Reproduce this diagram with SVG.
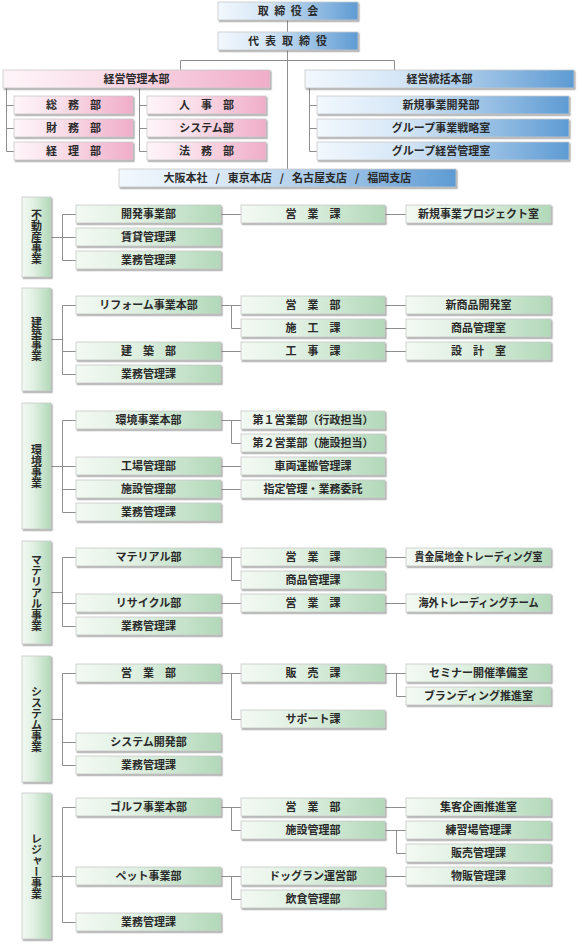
<svg xmlns="http://www.w3.org/2000/svg" width="580" height="945" viewBox="0 0 580 945">
<defs>
<linearGradient id="gg" x1="0" y1="0" x2="1" y2="0">
<stop offset="0" stop-color="#f3f9f3"/><stop offset="0.4" stop-color="#e0f0e2"/><stop offset="1" stop-color="#b2d8b9"/>
</linearGradient>
<linearGradient id="gb" x1="0" y1="0" x2="1" y2="0">
<stop offset="0" stop-color="#f2f8fd"/><stop offset="0.35" stop-color="#d5e6f6"/><stop offset="1" stop-color="#5e9bd3"/>
</linearGradient>
<linearGradient id="gp" x1="0" y1="0" x2="1" y2="0">
<stop offset="0" stop-color="#fef5f9"/><stop offset="0.4" stop-color="#f9dde8"/><stop offset="1" stop-color="#f0adc8"/>
</linearGradient>
<filter id="sh" x="-10%" y="-20%" width="120%" height="160%">
<feDropShadow dx="1.2" dy="1.5" stdDeviation="0.7" flood-color="#555" flood-opacity="0.55"/>
</filter>
<style>
.box{stroke:#c8c8c8;stroke-width:0.8;filter:url(#sh)}
.gr{fill:url(#gg)}
.bl{fill:url(#gb)}
.pk{fill:url(#gp)}
.t{font-family:"Noto Sans CJK JP","Noto Sans",sans-serif;font-size:11px;font-weight:bold;fill:#2a2a2a;text-anchor:middle}
.v{writing-mode:vertical-rl;dominant-baseline:central}
.c{stroke:#8e8e8e;stroke-width:1;fill:none}
</style>
</defs>
<rect width="580" height="945" fill="#ffffff"/>
<g id="connectors" class="c">
<path d="M287.5 20 V169 M180.5 70 V60.5 H394.5 V70"/>
<path d="M6.5 88 V151.5 H14 M6.5 105.5 H14 M6.5 128.5 H14"/>
<path d="M139.5 88 V151.5 H147 M139.5 105.5 H147 M139.5 128.5 H147"/>
<path d="M309.5 88 V151.5 H317 M309.5 105.5 H317 M309.5 128.5 H317"/>
<path d="M51 237.5 H62.5 M62.5 214.5 V260.5 M62.5 214.5 H76 M62.5 237.5 H76 M62.5 260.5 H76 M221 214.5 H241 M385 214.5 H406"/>
<path d="M51 339.5 H62.5 M62.5 305.5 V374.5 M62.5 305.5 H76 M62.5 351.5 H76 M62.5 374.5 H76 M221 305.5 H241 M231.5 305.5 V328.5 H241 M221 351.5 H241 M385 305.5 H406 M385 328.5 H406 M385 351.5 H406"/>
<path d="M51 466.5 H62.5 M62.5 420.5 V512.5 M62.5 420.5 H76 M62.5 466.5 H76 M62.5 489.5 H76 M62.5 512.5 H76 M221 420.5 H241 M231.5 420.5 V443.5 H241 M221 466.5 H241 M221 489.5 H241"/>
<path d="M51 592.5 H62.5 M62.5 557.5 V626.5 M62.5 557.5 H76 M62.5 603.5 H76 M62.5 626.5 H76 M221 557.5 H241 M231.5 557.5 V580.5 H241 M221 603.5 H241 M385 557.5 H406 M385 603.5 H406"/>
<path d="M51 719.5 H62.5 M62.5 673.5 V765.5 M62.5 673.5 H76 M62.5 742.5 H76 M62.5 765.5 H76 M221 673.5 H241 M231.5 673.5 V719.5 H241 M385 673.5 H406 M396.5 673.5 V696.5 H406"/>
<path d="M51 876.5 H62.5 M62.5 807.5 V922.5 M62.5 807.5 H76 M62.5 876.5 H76 M62.5 922.5 H76 M221 807.5 H241 M231.5 807.5 V830.5 H241 M221 876.5 H241 M231.5 876.5 V899.5 H241 M385 807.5 H406 M385 830.5 H406 M396.5 830.5 V853.5 H406 M385 876.5 H406"/>
</g>

<g id="board"><rect class="box bl" x="218" y="2" width="140" height="18"/><text class="t" x="290.75" y="15" letter-spacing="5.5">取締役会</text></g>
<g id="ceo"><rect class="box bl" x="218" y="32" width="140" height="18"/><text class="t" x="290.5" y="45" letter-spacing="6">代表取締役</text></g>
<g id="keiei-kanri"><rect class="box pk" x="3" y="70" width="267" height="18"/><text class="t" x="136.5" y="83">経営管理本部</text></g>
<g id="soumu"><rect class="box pk" x="14" y="96" width="119" height="18"/><text class="t" x="73.5" y="109">総　務　部</text></g>
<g id="zaimu"><rect class="box pk" x="14" y="119" width="119" height="18"/><text class="t" x="73.5" y="132">財　務　部</text></g>
<g id="keiri"><rect class="box pk" x="14" y="142" width="119" height="18"/><text class="t" x="73.5" y="155">経　理　部</text></g>
<g id="jinji"><rect class="box pk" x="147" y="96" width="119" height="18"/><text class="t" x="206.5" y="109">人　事　部</text></g>
<g id="system-bu"><rect class="box pk" x="147" y="119" width="119" height="18"/><text class="t" x="206.5" y="132">システム部</text></g>
<g id="houmu"><rect class="box pk" x="147" y="142" width="119" height="18"/><text class="t" x="206.5" y="155">法　務　部</text></g>
<g id="keiei-toukatsu"><rect class="box bl" x="305" y="70" width="269" height="18"/><text class="t" x="439.5" y="83">経営統括本部</text></g>
<g id="shinki-jigyou"><rect class="box bl" x="317" y="96" width="252" height="18"/><text class="t" x="441" y="109">新規事業開発部</text></g>
<g id="group-senryaku"><rect class="box bl" x="317" y="119" width="252" height="18"/><text class="t" x="441" y="132">グループ事業戦略室</text></g>
<g id="group-kanri"><rect class="box bl" x="317" y="142" width="252" height="18"/><text class="t" x="441" y="155">グループ経営管理室</text></g>
<g id="branches"><rect class="box bl" x="119" y="169" width="337" height="18"/><text class="t" x="287.5" y="182" word-spacing="5.5">大阪本社 / 東京本店 / 名古屋支店 / 福岡支店</text></g>

<g id="s1-label"><rect class="box gr" x="22" y="197" width="29" height="80"/><text class="t v" x="36.5" y="237">不動産事業</text></g>
<g id="s1-kaihatsu"><rect class="box gr" x="76" y="205" width="145" height="18"/><text class="t" x="148.5" y="218">開発事業部</text></g>
<g id="s1-chintai"><rect class="box gr" x="76" y="228" width="145" height="18"/><text class="t" x="148.5" y="241">賃貸管理課</text></g>
<g id="s1-gyoumu"><rect class="box gr" x="76" y="251" width="145" height="18"/><text class="t" x="148.5" y="264">業務管理課</text></g>
<g id="s1-eigyou"><rect class="box gr" x="241" y="205" width="144" height="18"/><text class="t" x="313" y="218">営　業　課</text></g>
<g id="s1-project"><rect class="box gr" x="406" y="205" width="145" height="18"/><text class="t" x="478.5" y="218">新規事業プロジェクト室</text></g>

<g id="s2-label"><rect class="box gr" x="22" y="288" width="29" height="103"/><text class="t v" x="36.5" y="339.5">建築事業</text></g>
<g id="s2-reform"><rect class="box gr" x="76" y="296" width="145" height="18"/><text class="t" x="148.5" y="309">リフォーム事業本部</text></g>
<g id="s2-kenchiku"><rect class="box gr" x="76" y="342" width="145" height="18"/><text class="t" x="148.5" y="355">建　築　部</text></g>
<g id="s2-gyoumu"><rect class="box gr" x="76" y="365" width="145" height="18"/><text class="t" x="148.5" y="378">業務管理課</text></g>
<g id="s2-eigyou"><rect class="box gr" x="241" y="296" width="144" height="18"/><text class="t" x="313" y="309">営　業　部</text></g>
<g id="s2-sekou"><rect class="box gr" x="241" y="319" width="144" height="18"/><text class="t" x="313" y="332">施　工　課</text></g>
<g id="s2-kouji"><rect class="box gr" x="241" y="342" width="144" height="18"/><text class="t" x="313" y="355">工　事　課</text></g>
<g id="s2-shinshouhin"><rect class="box gr" x="406" y="296" width="145" height="18"/><text class="t" x="478.5" y="309">新商品開発室</text></g>
<g id="s2-shouhin"><rect class="box gr" x="406" y="319" width="145" height="18"/><text class="t" x="478.5" y="332">商品管理室</text></g>
<g id="s2-sekkei"><rect class="box gr" x="406" y="342" width="145" height="18"/><text class="t" x="478.5" y="355">設　計　室</text></g>

<g id="s3-label"><rect class="box gr" x="22" y="403" width="29" height="126"/><text class="t v" x="36.5" y="466">環境事業</text></g>
<g id="s3-kankyou"><rect class="box gr" x="76" y="411" width="145" height="18"/><text class="t" x="148.5" y="424">環境事業本部</text></g>
<g id="s3-koujou"><rect class="box gr" x="76" y="457" width="145" height="18"/><text class="t" x="148.5" y="470">工場管理部</text></g>
<g id="s3-shisetsu"><rect class="box gr" x="76" y="480" width="145" height="18"/><text class="t" x="148.5" y="493">施設管理部</text></g>
<g id="s3-gyoumu"><rect class="box gr" x="76" y="503" width="145" height="18"/><text class="t" x="148.5" y="516">業務管理課</text></g>
<g id="s3-eigyou1"><rect class="box gr" x="241" y="411" width="144" height="18"/><text class="t" x="313" y="424">第１営業部（行政担当）</text></g>
<g id="s3-eigyou2"><rect class="box gr" x="241" y="434" width="144" height="18"/><text class="t" x="313" y="447">第２営業部（施設担当）</text></g>
<g id="s3-sharyou"><rect class="box gr" x="241" y="457" width="144" height="18"/><text class="t" x="313" y="470">車両運搬管理課</text></g>
<g id="s3-shitei"><rect class="box gr" x="241" y="480" width="144" height="18"/><text class="t" x="313" y="493">指定管理・業務委託</text></g>

<g id="s4-label"><rect class="box gr" x="22" y="541" width="29" height="103"/><text class="t v" x="36.5" y="592.5">マテリアル事業</text></g>
<g id="s4-material"><rect class="box gr" x="76" y="548" width="145" height="18"/><text class="t" x="148.5" y="561">マテリアル部</text></g>
<g id="s4-recycle"><rect class="box gr" x="76" y="594" width="145" height="18"/><text class="t" x="148.5" y="607">リサイクル部</text></g>
<g id="s4-gyoumu"><rect class="box gr" x="76" y="617" width="145" height="18"/><text class="t" x="148.5" y="630">業務管理課</text></g>
<g id="s4-eigyou1"><rect class="box gr" x="241" y="548" width="144" height="18"/><text class="t" x="313" y="561">営　業　課</text></g>
<g id="s4-shouhin"><rect class="box gr" x="241" y="571" width="144" height="18"/><text class="t" x="313" y="584">商品管理課</text></g>
<g id="s4-eigyou2"><rect class="box gr" x="241" y="594" width="144" height="18"/><text class="t" x="313" y="607">営　業　課</text></g>
<g id="s4-kikinzoku"><rect class="box gr" x="406" y="548" width="145" height="18"/><text class="t" x="478.5" y="561" textLength="128" lengthAdjust="spacingAndGlyphs">貴金属地金トレーディング室</text></g>
<g id="s4-kaigai"><rect class="box gr" x="406" y="594" width="145" height="18"/><text class="t" x="478.5" y="607" textLength="120" lengthAdjust="spacingAndGlyphs">海外トレーディングチーム</text></g>

<g id="s5-label"><rect class="box gr" x="22" y="656" width="29" height="126"/><text class="t v" x="36.5" y="719">システム事業</text></g>
<g id="s5-eigyou"><rect class="box gr" x="76" y="664" width="145" height="18"/><text class="t" x="148.5" y="677">営　業　部</text></g>
<g id="s5-kaihatsu"><rect class="box gr" x="76" y="733" width="145" height="18"/><text class="t" x="148.5" y="746">システム開発部</text></g>
<g id="s5-gyoumu"><rect class="box gr" x="76" y="756" width="145" height="18"/><text class="t" x="148.5" y="769">業務管理課</text></g>
<g id="s5-hanbai"><rect class="box gr" x="241" y="664" width="144" height="18"/><text class="t" x="313" y="677">販　売　課</text></g>
<g id="s5-support"><rect class="box gr" x="241" y="710" width="144" height="18"/><text class="t" x="313" y="723">サポート課</text></g>
<g id="s5-seminar"><rect class="box gr" x="406" y="664" width="145" height="18"/><text class="t" x="478.5" y="677">セミナー開催準備室</text></g>
<g id="s5-branding"><rect class="box gr" x="406" y="687" width="145" height="18"/><text class="t" x="478.5" y="700">ブランディング推進室</text></g>

<g id="s6-label"><rect class="box gr" x="22" y="793" width="29" height="146"/><text class="t v" x="36.5" y="866">レジャー事業</text></g>
<g id="s6-golf"><rect class="box gr" x="76" y="798" width="145" height="18"/><text class="t" x="148.5" y="811">ゴルフ事業本部</text></g>
<g id="s6-pet"><rect class="box gr" x="76" y="867" width="145" height="18"/><text class="t" x="148.5" y="880">ペット事業部</text></g>
<g id="s6-gyoumu"><rect class="box gr" x="76" y="913" width="145" height="18"/><text class="t" x="148.5" y="926">業務管理課</text></g>
<g id="s6-eigyou"><rect class="box gr" x="241" y="798" width="144" height="18"/><text class="t" x="313" y="811">営　業　部</text></g>
<g id="s6-shisetsu"><rect class="box gr" x="241" y="821" width="144" height="18"/><text class="t" x="313" y="834">施設管理部</text></g>
<g id="s6-dogrun"><rect class="box gr" x="241" y="867" width="144" height="18"/><text class="t" x="313" y="880">ドッグラン運営部</text></g>
<g id="s6-inshoku"><rect class="box gr" x="241" y="890" width="144" height="18"/><text class="t" x="313" y="903">飲食管理部</text></g>
<g id="s6-shukyaku"><rect class="box gr" x="406" y="798" width="145" height="18"/><text class="t" x="478.5" y="811">集客企画推進室</text></g>
<g id="s6-renshuujou"><rect class="box gr" x="406" y="821" width="145" height="18"/><text class="t" x="478.5" y="834">練習場管理課</text></g>
<g id="s6-hanbai"><rect class="box gr" x="406" y="844" width="145" height="18"/><text class="t" x="478.5" y="857">販売管理課</text></g>
<g id="s6-buppan"><rect class="box gr" x="406" y="867" width="145" height="18"/><text class="t" x="478.5" y="880">物販管理課</text></g>
</svg>
